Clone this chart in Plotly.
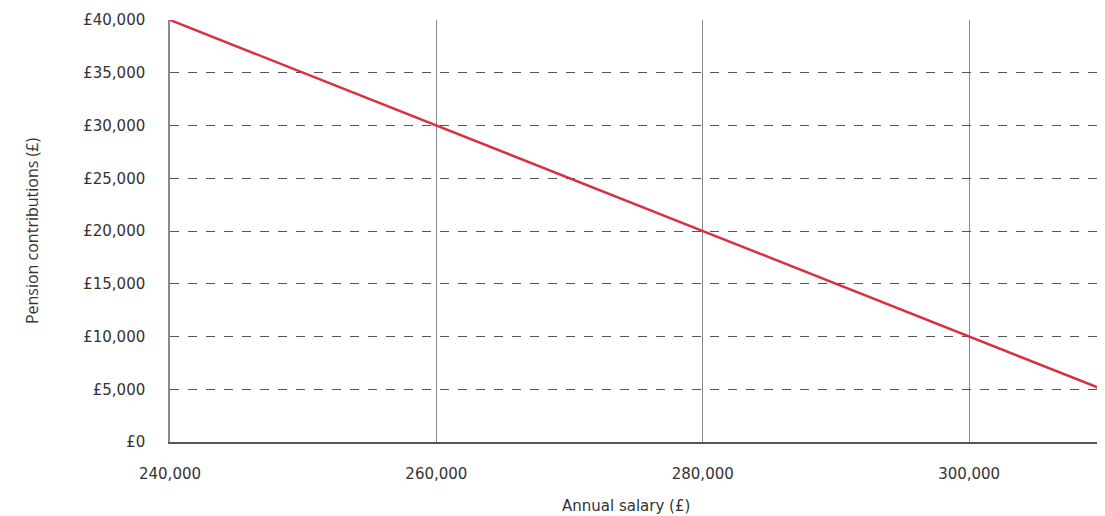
import plotly.graph_objects as go

salary = [240000, 260000, 280000, 300000, 312000]
allowance = [40000, 30000, 20000, 10000, 4000]
x_ticks = [240000, 260000, 280000, 300000]
x_labels = ["240,000", "260,000", "280,000", "300,000"]
y_ticks = [0, 5000, 10000, 15000, 20000, 25000, 30000, 35000, 40000]
y_labels = ["£0", "£5,000", "£10,000", "£15,000", "£20,000", "£25,000", "£30,000", "£35,000", "£40,000"]

fig = go.Figure()
fig.add_trace(go.Scatter(x=salary, y=allowance, mode="lines",
                         line=dict(color="#d9303e", width=2.5), showlegend=False))

fig.update_layout(
    width=1097, height=508,
    margin=dict(l=162, r=0, t=12, b=74),
    paper_bgcolor="white", plot_bgcolor="white",
    font=dict(family="DejaVu Sans", size=15, color="#333333"),
)
fig.update_xaxes(
    range=[240000, 310200], tickmode="array", tickvals=x_ticks, ticktext=x_labels,
    showgrid=True, gridcolor="#8a8a8a", gridwidth=1.3,
    showline=True, linecolor="#555555", linewidth=1.5,
    ticks="outside", ticklen=17, tickcolor="rgba(0,0,0,0)",
    zeroline=False,
)
fig.update_yaxes(
    range=[0, 40000], tickmode="array", tickvals=y_ticks, ticktext=y_labels,
    showgrid=True, gridcolor="#555555", gridwidth=1, griddash="dash",
    showline=True, linecolor="#8a8a8a", linewidth=1.5,
    ticks="outside", ticklen=20, tickcolor="rgba(0,0,0,0)",
    title=dict(text="Pension contributions (£)", standoff=41,
               font=dict(family="Open Sans", size=16, color="#333333")),
    zeroline=False,
)
fig.add_annotation(text="Annual salary (£)", xref="paper", yref="paper",
                   x=0.488, y=-0.152, xanchor="center", yanchor="middle",
                   showarrow=False, font=dict(family="DejaVu Sans", size=15, color="#333333"))
fig.write_html("out.html")
